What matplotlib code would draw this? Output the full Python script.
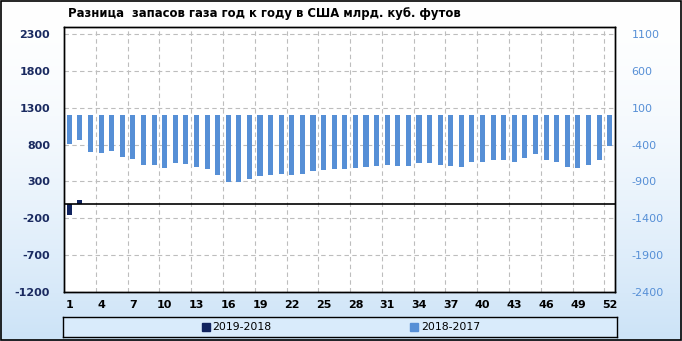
import numpy as np
import matplotlib.pyplot as plt
from matplotlib.patches import Rectangle

plt.rcParams["axes.unicode_minus"] = False

# weekly data, bcf
weeks = np.arange(1, 53)
diff_2019_2018 = [-155, 45]  # only first two weeks reported
diff_2018_2017 = [
    -393, -344, -504, -518, -491, -571, -598, -679, -679, -719,
    -652, -665, -705, -732, -812, -906, -906, -866, -826, -812,
    -799, -812, -799, -759, -746, -732, -732, -719, -705, -692,
    -679, -692, -692, -652, -652, -679, -692, -705, -638, -638,
    -612, -612, -638, -585, -531, -612, -638, -705, -719, -679,
    -612, -424,
]
left_ticks = np.arange(-1200, 2301, 500)
right_ticks = np.arange(-2400, 1101, 500)
xtick_weeks = np.arange(1, 53, 3)

title = "Разница  запасов газа год к году в США млрд. куб. футов"
labels = ["2019-2018", "2018-2017"]

dark = "#10235e"
light = "#568fd6"
navy_text = "#1a2a60"

fig = plt.figure(figsize=(6.82, 3.41), dpi=100)

# gradient background
bg = fig.add_axes([0, 0, 1, 1], zorder=-10)
grad = np.linspace(0, 1, 256) ** 1.6
top = np.array([1.0, 1.0, 1.0])
bot = np.array([0.80, 0.89, 0.97])
img = top[None, :] * (1 - grad[:, None]) + bot[None, :] * grad[:, None]
bg.imshow(img[:, None, :], aspect="auto", extent=[0, 1, 0, 1], origin="upper")
bg.set_axis_off()
fig.patches.append(Rectangle((0.001, 0.002), 0.997, 0.995, transform=fig.transFigure,
                             fill=False, edgecolor="black", lw=1.2))

W, H = 682, 341
ax = fig.add_axes([64 / W, (H - 292) / H, 551 / W, 265 / H])
ax.set_facecolor("white")
ax2 = ax.twinx()

ax.bar(weeks[:len(diff_2019_2018)], diff_2019_2018, width=0.48, color=dark, zorder=3)
ax2.bar(weeks, diff_2018_2017, width=0.48, color=light, zorder=3)

ax.set_ylim(-1200, 2395)
ax2.set_ylim(-2400, 1195)
ax.set_xlim(0.5, 52.5)
ax.set_yticks(left_ticks)
ax2.set_yticks(right_ticks)
ax.set_xticks(xtick_weeks)
ax.set_xticks(xtick_weeks[1:] - 0.5, minor=True)

ax.axhline(0, color="black", lw=1.2, zorder=4)
ax.grid(True, axis="y", which="major", linestyle=(0, (4, 3)), color="#bdbdbd", lw=0.8, zorder=0)
ax.grid(True, axis="x", which="minor", linestyle=(0, (4, 3)), color="#bdbdbd", lw=0.8, zorder=0)
ax.grid(False, axis="x", which="major")

ax.tick_params(axis="y", length=0, pad=10, labelsize=8, labelcolor=navy_text)
ax.tick_params(axis="x", which="both", length=0, pad=6, labelsize=8)
ax2.tick_params(axis="y", length=0, pad=12, labelsize=8, labelcolor=light)
for t in ax.get_yticklabels() + ax.get_xticklabels():
    t.set_fontweight("bold")

for a in (ax, ax2):
    for s in a.spines.values():
        s.set_color("black")
        s.set_linewidth(1.0)

fig.text(68 / W, 1 - 14 / H, title, fontsize=8.4, fontweight="bold", va="center", ha="left")

# legend box
leg = fig.add_axes([63 / W, (H - 337) / H, 554 / W, 20 / H])
leg.set_facecolor("#d9ebfb")
leg.set_xticks([])
leg.set_yticks([])
for s in leg.spines.values():
    s.set_color("black")
    s.set_linewidth(1.0)
leg.set_xlim(0, 1)
leg.set_ylim(0, 1)
for lab, col, x0 in zip(labels, [dark, light], [0.258, 0.634]):
    leg.add_patch(Rectangle((x0 - 0.008, 0.3), 0.015, 0.42, color=col))
    leg.text(x0 + 0.012, 0.48, lab, fontsize=7.8, va="center", ha="left")

fig.savefig("out.png", dpi=100)
